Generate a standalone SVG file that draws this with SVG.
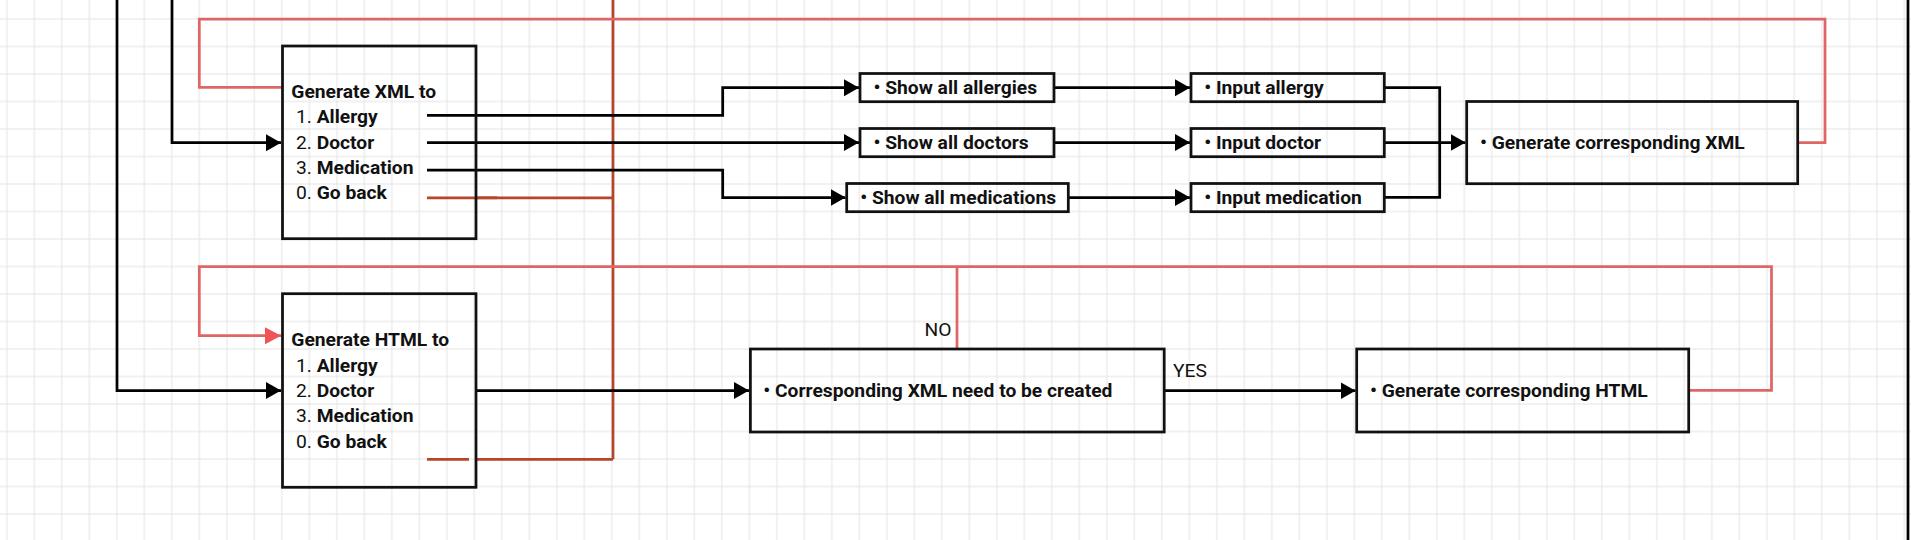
<svg xmlns="http://www.w3.org/2000/svg" width="1911" height="540" viewBox="0 0 1911 540">
<style>
.box{fill:none;stroke:#111;stroke-width:2.75}
.c{fill:none;stroke:#000;stroke-width:2.75}
.r{fill:none;stroke:#e06666;stroke-width:2.75}
.b{fill:none;stroke:#b4462a;stroke-width:2.75}
.t{font-family:Roboto,"Liberation Sans",sans-serif;font-size:19.25px;fill:#111}
.bd{font-weight:700}
</style>
<defs>
<pattern id="grid" x="-6.95" y="5.25" width="27.5" height="27.5" patternUnits="userSpaceOnUse">
<path d="M13.75 0V27.5M0 13.75H27.5" stroke="#e3e3e3" stroke-width="1" fill="none"/>
</pattern>
<marker id="ab" markerUnits="userSpaceOnUse" markerWidth="16" markerHeight="18" refX="15" refY="8.5" orient="auto"><path d="M0,0 L15,8.5 L0,17 z" fill="#000"/></marker>
<marker id="ar" markerUnits="userSpaceOnUse" markerWidth="18" markerHeight="18" refX="16" refY="8.5" orient="auto"><path d="M0,0 L16,8.5 L0,17 z" fill="#f05454"/></marker>
</defs>
<rect width="1911" height="540" fill="#fff"/>
<rect width="1911" height="540" fill="url(#grid)"/>
<g id="connectors">
<path class="c" d="M117 0V390.5H281" marker-end="url(#ab)"/>
<path class="c" d="M172 0V142.7H281" marker-end="url(#ab)"/>
<path class="c" d="M1908 0V540"/>
<path class="b" d="M613 0V459.3"/>
<path class="r" d="M282 87.3H199.3V19H1825V142.7H1798"/>
<path class="r" d="M1688.7 390.3H1771.5V266.7H199.3V335.7H281" marker-end="url(#ar)"/>
<path class="r" d="M957 349V266.7"/>
<path class="c" d="M427 115.3H722.7V87.7H859" marker-end="url(#ab)"/>
<path class="c" d="M427 142.5H859" marker-end="url(#ab)"/>
<path class="c" d="M427 170.2H722.7V197.5H845.5" marker-end="url(#ab)"/>
<path class="b" d="M427 197.8H613"/>
<path class="b" d="M476 197.8H497" stroke-width="4"/>
<path class="b" d="M427 459.3H469M475 459.3H613"/>
<path class="c" d="M1054 87.7H1190" marker-end="url(#ab)"/>
<path class="c" d="M1054 142.5H1190" marker-end="url(#ab)"/>
<path class="c" d="M1068.3 197.5H1190" marker-end="url(#ab)"/>
<path class="c" d="M1384.3 87.7H1439.7V197.3H1384.3"/>
<path class="c" d="M1384.3 142.5H1465.5" marker-end="url(#ab)"/>
<path class="c" d="M476 390.5H749" marker-end="url(#ab)"/>
<path class="c" d="M1164.2 390.7H1355.5" marker-end="url(#ab)"/>
<text class="t" x="924.6" y="336">NO</text>
<text class="t" x="1173" y="377.3">YES</text>
</g>
<g id="xml-menu">
<rect class="box" x="282.5" y="46" width="193.5" height="192.7"/>
<text class="t bd" x="291.3" y="97.7">Generate XML to</text>
<text class="t" x="296" y="123.3">1. <tspan class="bd">Allergy</tspan></text>
<text class="t" x="296" y="148.6">2. <tspan class="bd">Doctor</tspan></text>
<text class="t" x="296" y="174">3. <tspan class="bd">Medication</tspan></text>
<text class="t" x="296" y="199.3">0. <tspan class="bd">Go back</tspan></text>
</g>
<g id="html-menu">
<rect class="box" x="282.5" y="293.7" width="193.5" height="193.6"/>
<text class="t bd" x="291.3" y="345.7">Generate HTML to</text>
<text class="t" x="296" y="371.7">1. <tspan class="bd">Allergy</tspan></text>
<text class="t" x="296" y="396.9">2. <tspan class="bd">Doctor</tspan></text>
<text class="t" x="296" y="422">3. <tspan class="bd">Medication</tspan></text>
<text class="t" x="296" y="447.7">0. <tspan class="bd">Go back</tspan></text>
</g>
<g id="show-allergies">
<rect class="box" x="860" y="73.5" width="194" height="28.2"/>
<text class="t bd" x="873.5" y="94">• Show all allergies</text>
</g>
<g id="show-doctors">
<rect class="box" x="860" y="128.5" width="194" height="28.2"/>
<text class="t bd" x="873.5" y="149">• Show all doctors</text>
</g>
<g id="show-medications">
<rect class="box" x="846.7" y="183.5" width="221.6" height="28.2"/>
<text class="t bd" x="860.2" y="204">• Show all medications</text>
</g>
<g id="input-allergy">
<rect class="box" x="1191" y="73.5" width="193.3" height="28.2"/>
<text class="t bd" x="1204.2" y="94">• Input allergy</text>
</g>
<g id="input-doctor">
<rect class="box" x="1191" y="128.5" width="193.3" height="28.2"/>
<text class="t bd" x="1204.2" y="149">• Input doctor</text>
</g>
<g id="input-medication">
<rect class="box" x="1191" y="183.5" width="193.3" height="28.2"/>
<text class="t bd" x="1204.2" y="204">• Input medication</text>
</g>
<g id="gen-xml">
<rect class="box" x="1466.7" y="101.5" width="331" height="82.2"/>
<text class="t bd" x="1480" y="148.6">• Generate corresponding XML</text>
</g>
<g id="decision">
<rect class="box" x="750.4" y="349" width="413.8" height="83"/>
<text class="t bd" x="763.3" y="396.9">• Corresponding XML need to be created</text>
</g>
<g id="gen-html">
<rect class="box" x="1356.7" y="349" width="332" height="83"/>
<text class="t bd" x="1370" y="396.9">• Generate corresponding HTML</text>
</g>
</svg>
